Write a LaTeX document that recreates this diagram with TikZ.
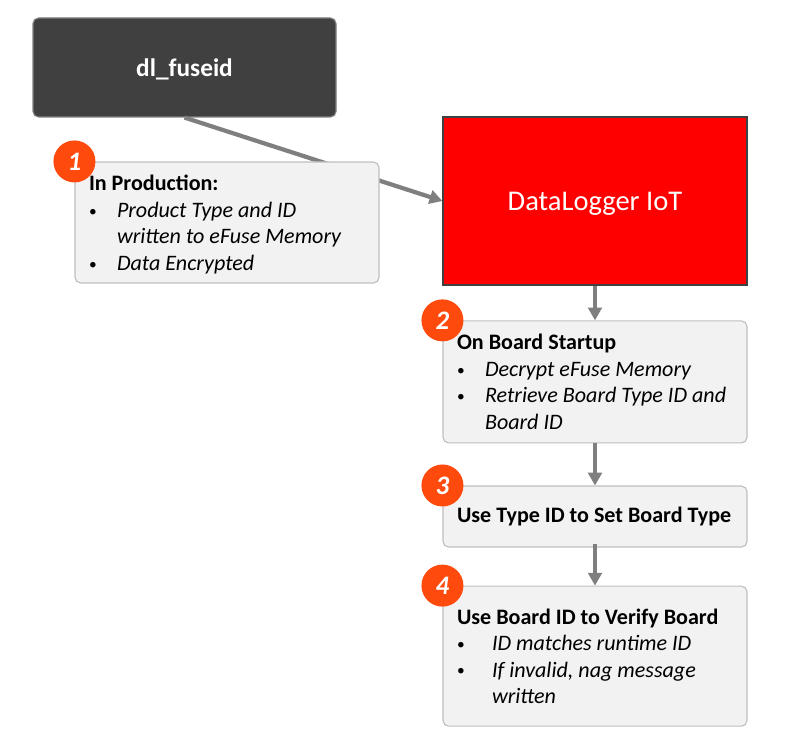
\documentclass[tikz,border=0pt]{standalone}
\usepackage{fontspec}
\setmainfont{Carlito}
\usetikzlibrary{arrows.meta,positioning}
\definecolor{darkbox}{HTML}{404040}
\definecolor{stepfill}{HTML}{F2F2F2}
\definecolor{stepline}{HTML}{BFBFBF}
\definecolor{badgered}{HTML}{FF4A0D}
\definecolor{flowgrey}{HTML}{7F7F7F}
\newcommand{\bulitem}[2]{\par\noindent\makebox[#1][l]{\raisebox{0.9pt}{\fontsize{11}{11}\selectfont\textbullet}}\textit{#2}\par}
\newcommand{\contitem}[2]{\par\noindent\hspace*{#1}\textit{#2}\par}
\tikzset{
  stepbox/.style={draw=stepline, line width=0.8pt, fill=stepfill, rounded corners=0.14cm, minimum width=7.6cm,
    text width=6.9cm, align=flush left, inner xsep=0.35cm, inner ysep=0pt, font=\fontsize{15.7}{18.85}\selectfont},
  badge/.style={circle, fill=badgered, minimum size=1.05cm, inner sep=0pt, text=white, font=\fontsize{19}{19}\selectfont\bfseries\itshape},
  flow/.style={draw=flowgrey, line width=3pt, -{Triangle[length=0.32cm,width=0.34cm]}}
}
\begin{document}
\begin{tikzpicture}
  \useasboundingbox (0,0) rectangle (20,-18.825);

  % Sources
  \node [draw=flowgrey, line width=0.8pt, fill=darkbox, rounded corners=0.14cm, minimum width=7.575cm, minimum height=2.475cm,
    text=white, text depth=0pt, font=\fontsize{18}{20}\selectfont\bfseries] (fuseid) at (4.6125,-1.6875) {dl\_fuseid};
  \node [draw=darkbox, line width=0.8pt, fill=red, minimum width=7.6cm, minimum height=4.2cm, text=white, text depth=0pt,
    font=\fontsize{20.3}{24}\selectfont] (logger) at (14.875,-5.025) {DataLogger IoT};

  % Production arrow goes behind the first box
  \draw [flow] (fuseid.south) -- (logger.west);

  % Steps
  \node [stepbox, minimum height=3.025cm] (production) at (5.675,-5.5625) {%
    \rule{0pt}{0.49cm}\textbf{In Production:}
    \bulitem{0.7cm}{Product Type and ID}
    \contitem{0.7cm}{written to eFuse Memory}
    \bulitem{0.7cm}{Data Encrypted}};
  \node [stepbox, minimum height=3.05cm, below=0.87cm of logger] (startup) {%
    \textbf{On Board Startup}
    \bulitem{0.7cm}{Decrypt eFuse Memory}
    \bulitem{0.7cm}{Retrieve Board Type ID and}
    \contitem{0.7cm}{Board ID}};
  \node [stepbox, minimum height=1.525cm, below=1.05cm of startup] (settype) {\textbf{Use Type ID to Set Board Type}};
  \node [stepbox, minimum height=3.5cm, below=0.95cm of settype] (verify) {%
    \textbf{Use Board ID to Verify Board}
    \bulitem{0.875cm}{ID matches runtime ID}
    \bulitem{0.875cm}{If invalid, nag message}
    \contitem{0.875cm}{written}};

  % Arrows
  \draw [flow] (logger.south) -- (startup.north);
  \draw [flow] (startup.south) -- (settype.north);
  \draw [flow] ([yshift=0.1cm]settype.south) -- (verify.north);

  % Badges
  \node [badge] (badgeone) at (production.north west) {1};
  \node [badge] (badgetwo) at (startup.north west) {2};
  \node [badge] (badgethree) at (settype.north west) {3};
  \node [badge] (badgefour) at (verify.north west) {4};
\end{tikzpicture}
\end{document}
